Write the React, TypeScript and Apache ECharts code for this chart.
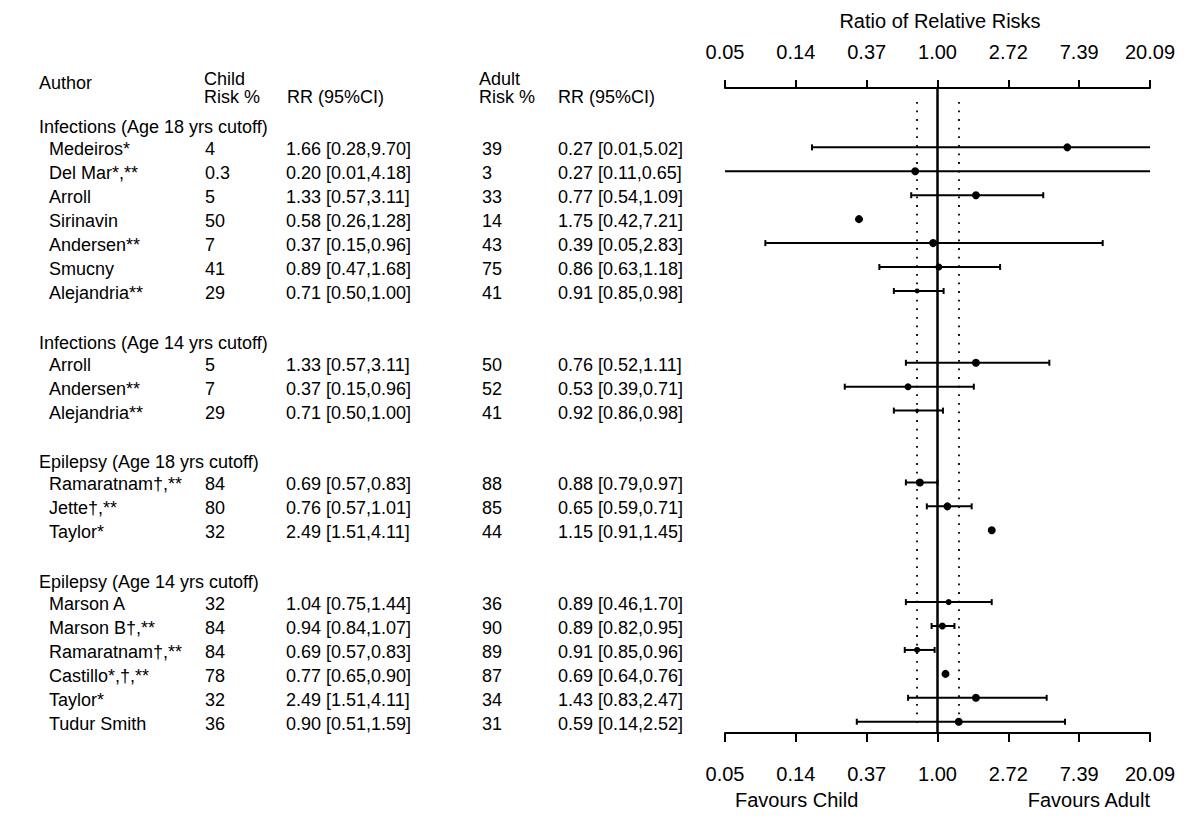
import React, { useEffect, useRef } from "react";
import * as echarts from "echarts";

// ---------- data ----------
const tickLabels = ["0.05", "0.14", "0.37", "1.00", "2.72", "7.39", "20.09"];

const groupTitles = [
  "Infections (Age 18 yrs cutoff)",
  "Infections (Age 14 yrs cutoff)",
  "Epilepsy (Age 18 yrs cutoff)",
  "Epilepsy (Age 14 yrs cutoff)",
];
const groupRows = [0, 9, 14, 19];

const studyRows = [1, 2, 3, 4, 5, 6, 7, 10, 11, 12, 15, 16, 17, 20, 21, 22, 23, 24, 25];
const authors = [
  "Medeiros*", "Del Mar*,**", "Arroll", "Sirinavin", "Andersen**", "Smucny", "Alejandria**",
  "Arroll", "Andersen**", "Alejandria**",
  "Ramaratnam\u2020,**", "Jette\u2020,**", "Taylor*",
  "Marson A", "Marson B\u2020,**", "Ramaratnam\u2020,**", "Castillo*,\u2020,**", "Taylor*", "Tudur Smith",
];
const childRisk = ["4", "0.3", "5", "50", "7", "41", "29", "5", "7", "29", "84", "80", "32", "32", "84", "84", "78", "32", "36"];
const childRR = [
  "1.66 [0.28,9.70]", "0.20 [0.01,4.18]", "1.33 [0.57,3.11]", "0.58 [0.26,1.28]", "0.37 [0.15,0.96]",
  "0.89 [0.47,1.68]", "0.71 [0.50,1.00]", "1.33 [0.57,3.11]", "0.37 [0.15,0.96]", "0.71 [0.50,1.00]",
  "0.69 [0.57,0.83]", "0.76 [0.57,1.01]", "2.49 [1.51,4.11]", "1.04 [0.75,1.44]", "0.94 [0.84,1.07]",
  "0.69 [0.57,0.83]", "0.77 [0.65,0.90]", "2.49 [1.51,4.11]", "0.90 [0.51,1.59]",
];
const adultRisk = ["39", "3", "33", "14", "43", "75", "41", "50", "52", "41", "88", "85", "44", "36", "90", "89", "87", "34", "31"];
const adultRR = [
  "0.27 [0.01,5.02]", "0.27 [0.11,0.65]", "0.77 [0.54,1.09]", "1.75 [0.42,7.21]", "0.39 [0.05,2.83]",
  "0.86 [0.63,1.18]", "0.91 [0.85,0.98]", "0.76 [0.52,1.11]", "0.53 [0.39,0.71]", "0.92 [0.86,0.98]",
  "0.88 [0.79,0.97]", "0.65 [0.59,0.71]", "1.15 [0.91,1.45]", "0.89 [0.46,1.70]", "0.89 [0.82,0.95]",
  "0.91 [0.85,0.96]", "0.69 [0.64,0.76]", "1.43 [0.83,2.47]", "0.59 [0.14,2.52]",
];

// ratio of relative risks (child / adult)
const ratioPoint = [6.25, 0.73, 1.72, 0.33, 0.94, 1.02, 0.75, 1.72, 0.66, 0.75, 0.78, 1.15, 2.15, 1.17, 1.07, 0.75, 1.12, 1.72, 1.35];
const ratioLower = [0.17, 0.03, 0.69, null, 0.088, 0.44, 0.54, 0.64, 0.27, 0.54, 0.64, 0.86, null, 0.64, 0.92, 0.63, null, 0.66, 0.32];
const ratioUpper = [220, 25, 4.45, null, 10.3, 2.42, 1.09, 4.85, 1.67, 1.08, 1.0, 1.62, null, 2.15, 1.27, 0.96, null, 4.67, 6.05];
const pointSize = [8, 8, 8, 8, 8, 7, 5, 8, 7, 4, 8, 8, 8, 6, 7, 6, 8, 8, 8];

const refLines = [0.75, 1.35]; // dotted reference lines
const nullLine = 1.0;

const FONT = "'Liberation Sans', Arial, Helvetica, sans-serif";

function txt(text: string, x: number, y: number, size = 18, align = "left") {
  return {
    type: "text",
    style: {
      text, x, y, fill: "#000", fontSize: size, fontFamily: FONT,
      textAlign: align, textVerticalAlign: "middle", align, verticalAlign: "middle",
    },
  };
}

export default function App() {
  const ref = useRef<HTMLDivElement>(null);
  useEffect(() => {
    if (!ref.current) return;
    const chart = echarts.init(ref.current, null, { renderer: "svg" });

    const forestData = studyRows.map((r, i) => [
      r,
      Math.log(ratioPoint[i]),
      ratioLower[i] == null ? 0 : Math.log(ratioLower[i] as number),
      ratioUpper[i] == null ? 0 : Math.log(ratioUpper[i] as number),
      pointSize[i],
      ratioLower[i] == null ? 0 : 1,
    ]);

    const xAxisBase = (position: string, margin: number, tickLen: number) => ({
      type: "value",
      position,
      min: -3,
      max: 3,
      interval: 1,
      axisLine: { show: true, onZero: false, lineStyle: { color: "#000", width: 2 } },
      axisTick: { show: true, length: tickLen, lineStyle: { color: "#000", width: 2 } },
      axisLabel: {
        color: "#000", fontSize: 20, fontFamily: FONT, margin,
        formatter: (v: number) => tickLabels[Math.round(v) + 3],
      },
      splitLine: { show: false },
    });

    chart.setOption({
      animation: false,
      backgroundColor: "#fff",
      grid: { left: 725, right: 50, top: 88, height: 645 },
      xAxis: [xAxisBase("top", 26, 8), xAxisBase("bottom", 31, 9)],
      yAxis: { type: "value", inverse: true, min: -1.48, max: 25.47, show: false },
      graphic: [
        txt("Ratio of Relative Risks", 940, 21, 20, "center"),
        txt("Favours Child", 735, 800, 20, "left"),
        txt("Favours Adult", 1150, 800, 20, "right"),
        txt("Author", 39, 83),
        txt("Child", 204, 79),
        txt("Risk %", 204, 97),
        txt("RR (95%CI)", 287, 97),
        txt("Adult", 479, 79),
        txt("Risk %", 479, 97),
        txt("RR (95%CI)", 558, 97),
      ],
      series: [
        {
          type: "line",
          data: [],
          silent: true,
          markLine: {
            symbol: ["none", "none"],
            silent: true,
            label: { show: false },
            data: [
              { xAxis: Math.log(nullLine), lineStyle: { color: "#000", width: 2.5, type: "solid" } },
              ...refLines.map((v) => [
                { coord: [Math.log(v), -0.9], lineStyle: { color: "#000", width: 1.8, type: [1.8, 6.8] } },
                { coord: [Math.log(v), 25.2] },
              ]),
            ],
          },
        },
        {
          type: "custom",
          clip: false,
          silent: true,
          encode: { x: 1, y: 0 },
          data: forestData,
          renderItem: (params: any, api: any) => {
            const row = api.value(0);
            const pt = api.value(1);
            const lo = api.value(2);
            const hi = api.value(3);
            const sz = api.value(4);
            const has = api.value(5);
            const y = api.coord([0, row])[1];
            const children: any[] = [];
            if (has) {
              const l = Math.max(lo, -3);
              const h = Math.min(hi, 3);
              const x1 = api.coord([l, row])[0];
              const x2 = api.coord([h, row])[0];
              children.push({ type: "line", shape: { x1, y1: y, x2, y2: y }, style: { stroke: "#000", lineWidth: 2 } });
              if (lo >= -3) children.push({ type: "line", shape: { x1, y1: y - 3, x2: x1, y2: y + 3 }, style: { stroke: "#000", lineWidth: 2 } });
              if (hi <= 3) children.push({ type: "line", shape: { x1: x2, y1: y - 3, x2, y2: y + 3 }, style: { stroke: "#000", lineWidth: 2 } });
            }
            const cx = api.coord([pt, row])[0];
            children.push({ type: "circle", shape: { cx, cy: y, r: sz / 2 }, style: { fill: "#000" } });
            return { type: "group", children };
          },
        },
        {
          type: "custom",
          clip: false,
          silent: true,
          encode: { x: 0, y: 1 },
          data: studyRows.map((r, i) => [0, r, i]),
          renderItem: (params: any, api: any) => {
            const i = api.value(2);
            const y = api.coord([0, api.value(1)])[1] + 2;
            return {
              type: "group",
              children: [
                txt(authors[i], 49, y),
                txt(childRisk[i], 205, y),
                txt(childRR[i], 286, y),
                txt(adultRisk[i], 482, y),
                txt(adultRR[i], 558, y),
              ],
            };
          },
        },
        {
          type: "custom",
          clip: false,
          silent: true,
          encode: { x: 0, y: 1 },
          data: groupRows.map((r, i) => [0, r, i]),
          renderItem: (params: any, api: any) => {
            const i = api.value(2);
            const y = api.coord([0, api.value(1)])[1] + 4;
            return { type: "group", children: [txt(groupTitles[i], 39, y)] };
          },
        },
      ],
    });
    return () => chart.dispose();
  }, []);
  return (
    <div
      ref={ref}
      style={{ position: "absolute", left: 0, top: 0, width: 1200, height: 837, background: "#fff" }}
    />
  );
}
